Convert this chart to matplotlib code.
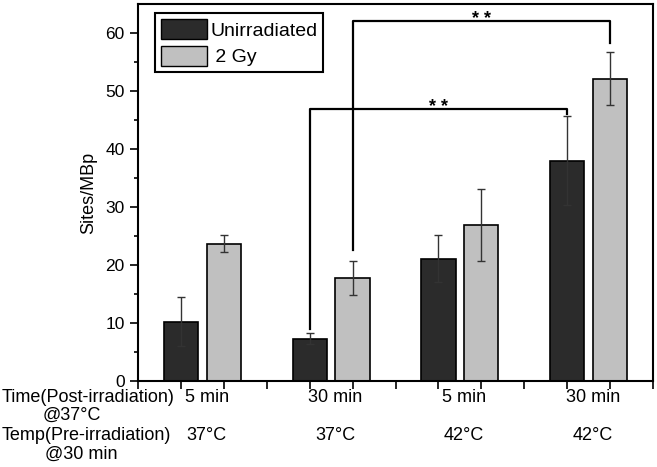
import numpy as np
import matplotlib
matplotlib.use("Agg")
import matplotlib.pyplot as plt
import matplotlib.transforms as mtransforms
from matplotlib.patches import Patch

plt.rcParams["font.family"] = ["Liberation Sans", "DejaVu Sans"]

# data
group_pos = [1.5, 4.5, 7.5, 10.5]
time_labels = ["5 min", "30 min", "5 min", "30 min"]
temp_labels = ["37°C", "37°C", "42°C", "42°C"]
unirr_vals = [10.2, 7.3, 21.1, 38.0]
unirr_err = [4.2, 0.9, 4.05, 7.65]
gy2_vals = [23.7, 17.8, 26.9, 52.1]
gy2_err = [1.45, 2.95, 6.25, 4.6]
# significance brackets: x left, x right, left foot, top, right foot
brackets = [
    (4, 10, 9.0, 46.9, 46.0),
    (5, 11, 22.5, 62.1, 58.3),
]

dark = "#2b2b2b"
light = "#c0c0c0"

fig = plt.figure(figsize=(6.57, 4.67), dpi=100)
ax = fig.add_axes([138 / 657, 1 - 381 / 467, 515 / 657, 377 / 467])

gp = np.array(group_pos)
ax.bar(gp - 0.5, unirr_vals, width=0.8, color=dark, edgecolor="black", linewidth=1.2, zorder=2)
ax.bar(gp + 0.5, gy2_vals, width=0.8, color=light, edgecolor="black", linewidth=1.2, zorder=2)
ax.errorbar(gp - 0.5, unirr_vals, yerr=unirr_err, fmt="none", ecolor="#333333",
            elinewidth=1, capsize=3, capthick=1, zorder=3)
ax.errorbar(gp + 0.5, gy2_vals, yerr=gy2_err, fmt="none", ecolor="#333333",
            elinewidth=1, capsize=3, capthick=1, zorder=3)

for x1, x2, y1, ytop, y2 in brackets:
    ax.plot([x1, x1, x2, x2], [y1, ytop, ytop, y2], color="black", lw=1.6, zorder=4)
    ax.text((x1 + x2) / 2, ytop - 0.6, "* *", ha="center", va="baseline",
            fontsize=13, fontweight="bold")

ax.set_xlim(0, 12)
ax.set_ylim(0, 65)
ax.set_xticks(range(13))
ax.set_xticklabels([])
ax.set_yticks(range(0, 61, 10))
ax.set_yticks(range(5, 61, 10), minor=True)
ax.tick_params(axis="both", which="major", direction="out", length=6, width=1.2, labelsize=12.5)
ax.tick_params(axis="y", which="minor", direction="out", length=3, width=1.2)
for s in ax.spines.values():
    s.set_linewidth(1.5)
ax.set_ylabel("Sites/MBp", fontsize=13, labelpad=6)

handles = [Patch(facecolor=dark, edgecolor="black", linewidth=1),
           Patch(facecolor=light, edgecolor="black", linewidth=1)]
leg = ax.legend(handles, ["Unirradiated", " 2 Gy"], loc="upper left",
                bbox_to_anchor=(0.033, 0.975), borderaxespad=0, fontsize=14,
                handlelength=2.4, handleheight=1.2, handletextpad=0.15,
                labelspacing=0.3, borderpad=0.3, fancybox=False, framealpha=1)
leg.get_frame().set_edgecolor("black")
leg.get_frame().set_linewidth(1.5)

trans = mtransforms.blended_transform_factory(ax.transData, fig.transFigure)
for x, t1, t2 in zip(group_pos, time_labels, temp_labels):
    ax.text(x + 0.1, 1 - 397 / 467, t1, transform=trans, ha="center", va="center", fontsize=13)
    ax.text(x + 0.1, 1 - 436 / 467, t2, transform=trans, ha="center", va="center", fontsize=13)

fig.text(2 / 657, 1 - 397 / 467, "Time(Post-irradiation)", ha="left", va="center", fontsize=13)
fig.text(43 / 657, 1 - 415 / 467, "@37°C", ha="left", va="center", fontsize=13)
fig.text(2 / 657, 1 - 436 / 467, "Temp(Pre-irradiation)", ha="left", va="center", fontsize=13)
fig.text(45 / 657, 1 - 454 / 467, "@30 min", ha="left", va="center", fontsize=13)

fig.savefig("out.png", dpi=100)
